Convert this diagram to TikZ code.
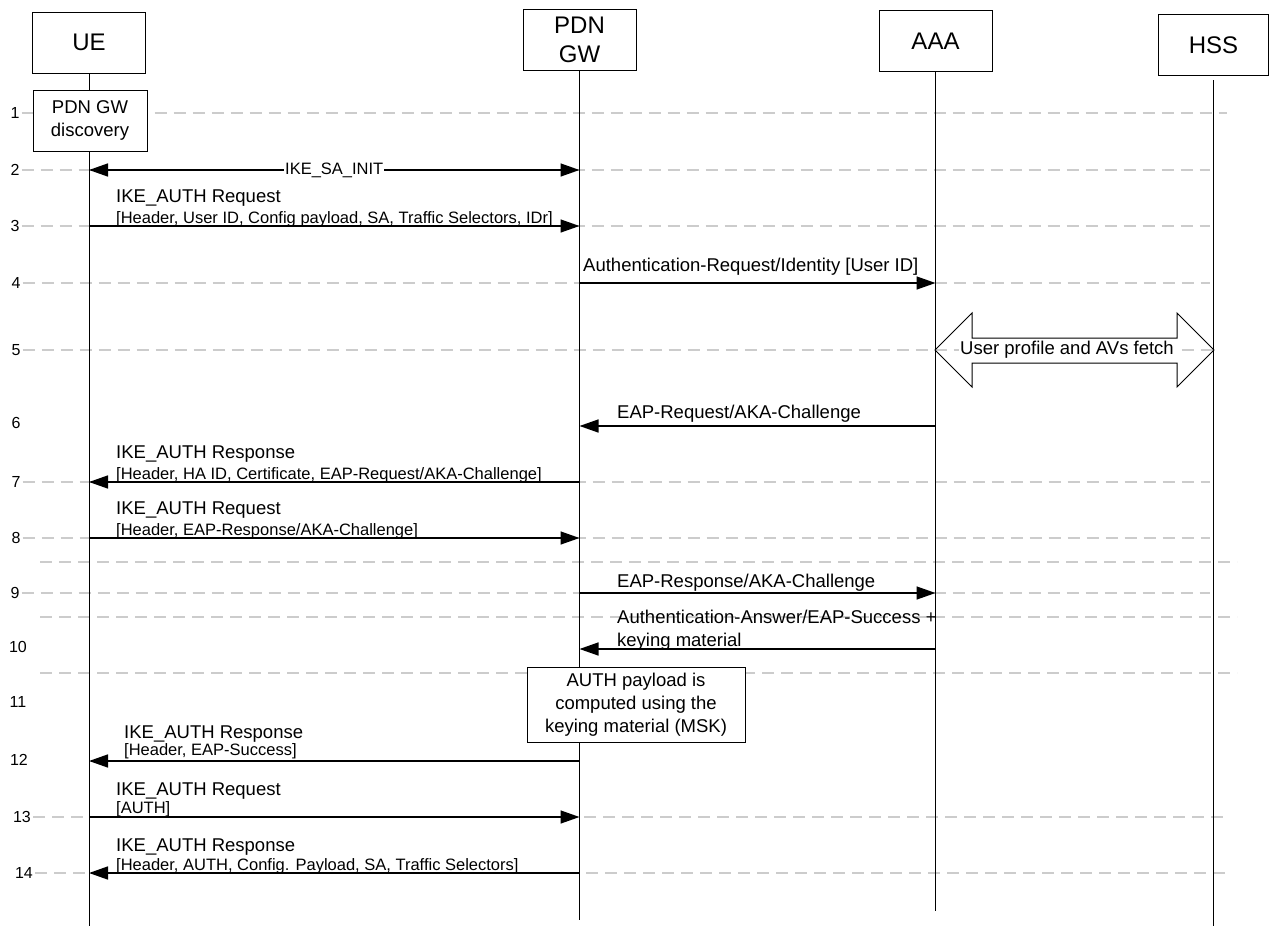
\documentclass[tikz,border=0pt]{standalone}
\usepackage{fontspec}
\setmainfont{Liberation Sans}
\usetikzlibrary{arrows.meta}
\newcommand{\hdrfont}{\fontsize{24}{29}\selectfont}
\newcommand{\msgfont}{\fontsize{18.5}{23}\selectfont}
\newcommand{\parfont}{\fontsize{16.5}{20}\selectfont}
\newcommand{\numfont}{\fontsize{16}{18}\selectfont}

\begin{document}
\begin{tikzpicture}[x=1pt, y=-1pt, >={Triangle[length=19pt, width=13pt]},
		entity/.style={draw, fill=white, line width=1pt, inner sep=0pt, minimum width=113pt, minimum height=61pt, align=center, font=\hdrfont},
		actbox/.style={draw, fill=white, line width=1pt, inner sep=0pt, align=center, font=\msgfont},
		lifeline/.style={line width=1pt},
		msg/.style={->, line width=1.5pt},
		stepline/.style={gray!40, line width=1.5pt, dash pattern=on 12pt off 7pt},
		msgtitle/.style={anchor=base west, inner sep=0pt, font=\msgfont},
		msgparams/.style={anchor=base west, inner sep=0pt, font=\parfont},
		stepno/.style={inner sep=0pt, font=\numfont}]
				\useasboundingbox (0,0) rectangle (1270,926);
				\node[entity] (UE) at (89,42.5) {UE};
				\node[entity] (GW) at (579.5,40) {PDN\\GW};
				\node[entity] (AAA) at (935.5,41) {AAA};
				\node[entity, minimum width=110pt] (HSS) at (1213.5,45) {HSS};
				\coordinate (UEend) at (UE |- 0,926);
				\coordinate (GWend) at (GW |- 0,920);
				\coordinate (AAAend) at (AAA |- 0,911);
				\coordinate (HSSend) at (HSS |- 0,926);
				
				\foreach \s/\x/\y in {1/15/113, 2/15/170, 3/15/226, 4/16/283, 5/16/350, 6/16/423, 7/16/482, 8/16/538, 9/15/593, 10/18/647, 11/18/702, 12/19/760, 13/22/817, 14/24/873}
					\node[stepno] (n\s) at (\x,\y) {\s};
				\foreach \s/\e in {1/1227, 2/1210, 3/1210, 4/1210, 5/1214, 7/1210, 8/1210, 9/1210, 13/1228, 14/1228}
					\draw[stepline] ([xshift=2pt]n\s.east) -- (n\s -| \e,0);
				\foreach \y in {562, 617, 673}
					\draw[stepline] (40,\y) -- (1237,\y);
				
				\draw[lifeline] (UE.south) -- (UEend);
				\draw[lifeline] (GW.south) -- (GWend);
				\draw[lifeline] (AAA.south) -- (AAAend);
				\draw[lifeline] ([yshift=-4pt]HSS.south) -- (HSSend);
				
				\foreach \s/\y in {2/170, 3/226, 4/283, 6/426, 7/482, 8/538, 9/593, 10/649, 12/761, 13/817, 14/873} {
					\coordinate (ue\s) at (UE |- 0,\y);
					\coordinate (gw\s) at (GW |- 0,\y);
					\coordinate (aaa\s) at (AAA |- 0,\y);
				}
				
				\node[actbox, minimum width=114pt, minimum height=61pt] (disc) at (90,120.5) {PDN GW\\discovery};
				\draw[msg, <->] (ue2) -- (gw2) node[midway, fill=white, inner sep=1pt, font=\parfont] (sainit) {IKE\_SA\_INIT};
				
				\draw[msg] (ue3) -- (gw3);
				\node[msgtitle] (t3) at (116,202) {IKE\_AUTH Request};
				\node[msgparams] (p3) at (116,223) {[Header, User ID, Config payload, SA, Traffic Selectors, IDr]};
				
				\draw[msg] (gw4) -- (aaa4);
				\node[msgtitle] (t4) at (583,271) {Authentication-Request/Identity [User ID]};
				
				\draw[line width=1pt] (935,350) -- (972,313) -- (972,338) -- (1177,338) -- (1177,313) -- (1214,350) -- (1177,387) -- (1177,363) -- (972,363) -- (972,387) -- cycle;
				\node[fill=white, inner sep=1pt, font=\msgfont] (fetch) at (1067,350) {User profile and AVs fetch};
				
				\draw[msg] (aaa6) -- (gw6);
				\node[msgtitle] (t6) at (617,418) {EAP-Request/AKA-Challenge};
				
				\draw[msg] (gw7) -- (ue7);
				\node[msgtitle] (t7) at (116,458) {IKE\_AUTH Response};
				\node[msgparams] (p7) at (116,479) {[Header, HA ID, Certificate, EAP-Request/AKA-Challenge]};
				
				\draw[msg] (ue8) -- (gw8);
				\node[msgtitle] (t8) at (116,514) {IKE\_AUTH Request};
				\node[msgparams] (p8) at (116,535) {[Header, EAP-Response/AKA-Challenge]};
				
				\draw[msg] (gw9) -- (aaa9);
				\node[msgtitle] (t9) at (617,587) {EAP-Response/AKA-Challenge};
				
				\draw[msg] (aaa10) -- (gw10);
				\node[msgtitle] (t10) at (617,623) {Authentication-Answer/EAP-Success +};
				\node[msgtitle] (t10b) at (617,646) {keying material};
				
				\node[actbox, minimum width=218pt, minimum height=75pt] (msk) at (636,704.5) {AUTH payload is\\computed using the\\keying material (MSK)};
				
				\draw[msg] (gw12) -- (ue12);
				\node[msgtitle] (t12) at (124,738) {IKE\_AUTH Response};
				\node[msgparams] (p12) at (124,755) {[Header, EAP-Success]};
				
				\draw[msg] (ue13) -- (gw13);
				\node[msgtitle] (t13) at (116,795) {IKE\_AUTH Request};
				\node[msgparams] (p13) at (116,813) {[AUTH]};
				
				\draw[msg] (gw14) -- (ue14);
				\node[msgtitle] (t14) at (116,851) {IKE\_AUTH Response};
				\node[msgparams] (p14) at (116,870) {[Header, AUTH, Config. Payload, SA, Traffic Selectors]};
				
			\end{tikzpicture}
\end{document}
